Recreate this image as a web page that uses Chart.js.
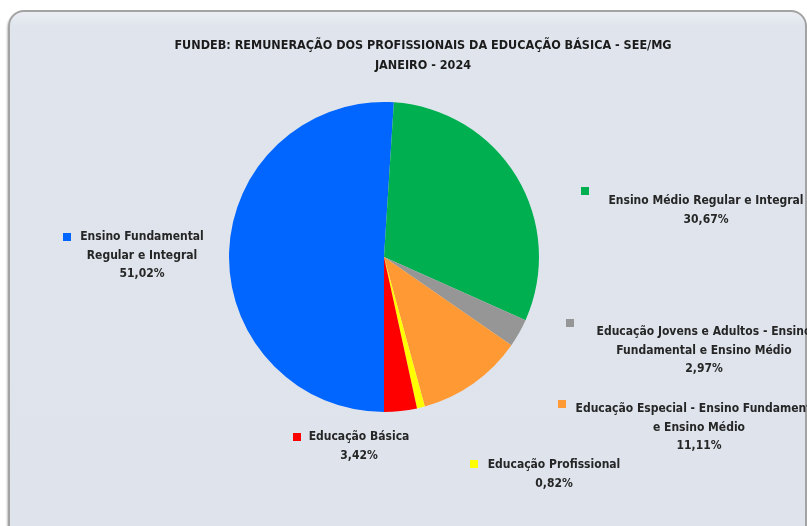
<!DOCTYPE html>
<html>
<head>
<meta charset="utf-8">
<script src="https://cdn.jsdelivr.net/npm/chart.js@4.4.1/dist/chart.umd.min.js"></script>
<style>
  html, body { margin: 0; padding: 0; background: #ffffff; width: 807px; height: 526px; overflow: hidden; }
  #frame {
    position: absolute; left: 8px; top: 10px; width: 795px; height: 530px;
    border: 2px solid #a3a3a3; border-radius: 16px;
    background: linear-gradient(to bottom, #eaedf3 0px, #e0e5ed 14px, #dfe4ec 100%);
    box-shadow: -1px 2px 2px rgba(0,0,0,0.25);
  }
  #wrap { position: absolute; left: 0; top: 0; width: 807px; height: 526px; }
</style>
</head>
<body>
<div id="frame"></div>
<div id="wrap"><canvas id="c" width="807" height="526"></canvas></div>
<script>
// ---- data ----
const categories = [
  "Ensino Fundamental Regular e Integral",
  "Ensino Médio Regular e Integral",
  "Educação Jovens e Adultos - Ensino Fundamental e Ensino Médio",
  "Educação Especial - Ensino Fundamental e Ensino Médio",
  "Educação Profissional",
  "Educação Básica"
];
const shares = [51.02, 30.67, 2.97, 11.11, 0.82, 3.42];
const shareLabels = ["51,02%", "30,67%", "2,97%", "11,11%", "0,82%", "3,42%"];
const labelLines = [
  ["Ensino Fundamental", "Regular e Integral"],
  ["Ensino Médio Regular e Integral"],
  ["Educação Jovens e Adultos - Ensino", "Fundamental e Ensino Médio"],
  ["Educação Especial - Ensino Fundamental", "e Ensino Médio"],
  ["Educação Profissional"],
  ["Educação Básica"]
];
const titleLines = ["FUNDEB: REMUNERAÇÃO DOS PROFISSIONAIS DA EDUCAÇÃO BÁSICA - SEE/MG", "JANEIRO - 2024"];
const colors = ["#0066ff", "#00b050", "#969696", "#ff9933", "#ffff00", "#ff0000"];

// label placement relative to pie centre (layout only)
const labelLayout = [
  { dx: -242, dy: -20, sx: -317, sy: -20 },
  { dx: 322, dy: -56, sx: 201, sy: -66 },
  { dx: 320, dy: 75, sx: 186, sy: 66 },
  { dx: 315, dy: 152, sx: 178, sy: 147 },
  { dx: 170, dy: 208, sx: 90, sy: 207 },
  { dx: -25, dy: 180, sx: -87, sy: 180 }
];

const FONT = '"Liberation Sans Narrow", "DejaVu Sans Condensed", "Liberation Sans", sans-serif';

const textPlugin = {
  id: 'excelText',
  afterDatasetsDraw(chart) {
    const ctx = chart.ctx;
    const arc = chart.getDatasetMeta(0).data[0];
    const cx = arc.x, cy = arc.y;
    ctx.save();
    // title
    ctx.fillStyle = '#1b1b1b';
    ctx.font = 'bold 12.5px ' + FONT;
    ctx.textAlign = 'center';
    ctx.textBaseline = 'middle';
    titleLines.forEach((t, i) => ctx.fillText(t, 423, 46 + i * 20));
    // data labels
    ctx.font = 'bold 12px ' + FONT;
    const lh = 18.5;
    labelLines.forEach((lines, i) => {
      const L = labelLayout[i];
      const all = lines.concat([shareLabels[i]]);
      ctx.fillStyle = '#262626';
      all.forEach((t, j) => ctx.fillText(t, cx + L.dx, cy + L.dy + j * lh));
      ctx.fillStyle = colors[i];
      ctx.fillRect(Math.round(cx + L.sx - 4), Math.round(cy + L.sy - 4), 8, 8);
    });
    ctx.restore();
  }
};

new Chart(document.getElementById('c'), {
  type: 'pie',
  data: {
    labels: categories,
    datasets: [{
      data: shares,
      backgroundColor: colors,
      borderWidth: 0
    }]
  },
  options: {
    responsive: false,
    animation: false,
    rotation: 180,
    layout: { padding: { left: 229, right: 268, top: 102, bottom: 114 } },
    plugins: {
      legend: { display: false },
      title: { display: false },
      tooltip: { enabled: false }
    }
  },
  plugins: [textPlugin]
});
</script>
</body>
</html>
